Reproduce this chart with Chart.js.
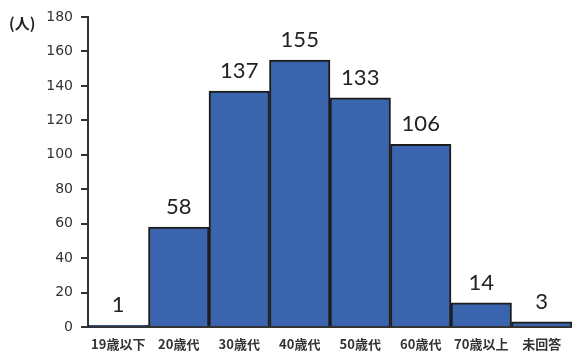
<!DOCTYPE html>
<html><head><meta charset="utf-8">
<script src="https://cdn.jsdelivr.net/npm/chart.js@4.4.1/dist/chart.umd.min.js"></script>
<style>html,body{margin:0;padding:0;background:#fff}#wrap{width:572px;height:351px;position:relative}</style>
</head><body><div id="wrap"><canvas id="c" width="572" height="351"></canvas></div>
<script>
const categories = ['19歳以下','20歳代','30歳代','40歳代','50歳代','60歳代','70歳以上','未回答'];
const counts = [1, 58, 137, 155, 133, 106, 14, 3];
const yTicks = [0,20,40,60,80,100,120,140,160,180];
const unitLabel = '(人)';

Chart.defaults.font.family = 'DejaVu Sans';

const labelPlugin = {
  id: 'labels',
  afterDatasetsDraw(chart) {
    const ctx = chart.ctx;
    const meta = chart.getDatasetMeta(0);
    ctx.save();
    ctx.fillStyle = '#222';
    ctx.font = '22px Lato, "DejaVu Sans", sans-serif';
    ctx.textAlign = 'center';
    ctx.textBaseline = 'alphabetic';
    meta.data.forEach((bar, i) => {
      ctx.fillText(String(counts[i]), bar.x, bar.y - 13);
    });
    ctx.font = 'bold 15px "Noto Sans CJK JP", sans-serif';
    ctx.fillStyle = '#222';
    ctx.textAlign = 'left';
    ctx.textBaseline = 'middle';
    ctx.fillText(unitLabel, 9, 23);
    ctx.restore();
  }
};

new Chart(document.getElementById('c'), {
  type: 'bar',
  data: {
    labels: categories,
    datasets: [{
      data: counts,
      backgroundColor: '#3b64ae',
      borderColor: '#1c1c1c',
      borderWidth: 2,
      borderSkipped: 'bottom',
      barPercentage: 1,
      categoryPercentage: 1
    }]
  },
  options: {
    responsive: false,
    animation: false,
    devicePixelRatio: 1,
    layout: { padding: { top: 17, right: -3, left: 0, bottom: 0 } },
    plugins: { legend: { display: false }, tooltip: { enabled: false } },
    scales: {
      x: {
        grid: { display: true, drawOnChartArea: false, drawTicks: false },
        border: { display: true, color: '#333', width: 2 },
        ticks: { color: '#333', padding: 9, font: { size: 13, weight: 'bold', family: 'Noto Sans CJK JP' }, maxRotation: 0, autoSkip: false },
        afterFit(s) { s.height = 24; }
      },
      y: {
        min: 0, max: 180,
        afterBuildTicks(s) { s.ticks = yTicks.map(v => ({ value: v })); },
        grid: { display: true, drawOnChartArea: false, drawTicks: true, tickLength: 7, color: '#333', lineWidth: 2 },
        border: { display: true, color: '#333', width: 2 },
        ticks: { color: '#333', padding: 8, font: { size: 14, family: 'DejaVu Sans' } },
        afterFit(s) { s.width = 88; }
      }
    }
  },
  plugins: [labelPlugin]
});
</script>
</body></html>
